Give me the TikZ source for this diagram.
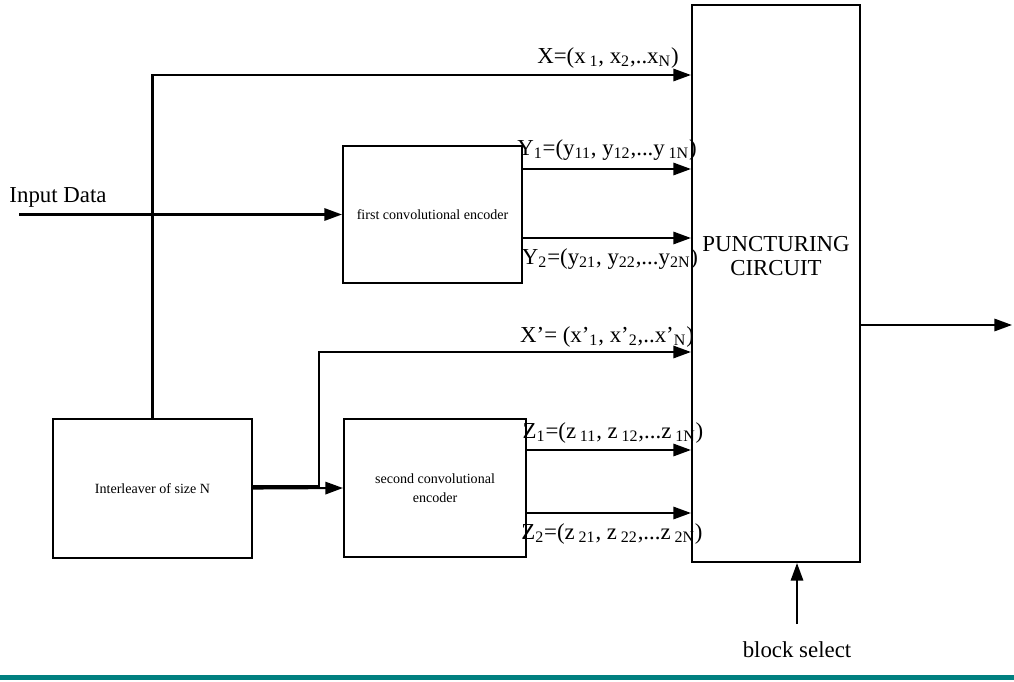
\documentclass[tikz,border=0pt]{standalone}
\usepackage{fontspec}
\setmainfont{Liberation Serif}
\usetikzlibrary{arrows.meta,positioning}
\definecolor{barteal}{RGB}{0,128,128}

\begin{document}
\begin{tikzpicture}[x=0.02cm,y=-0.02cm,
    blk/.style={draw,line width=1.2pt,inner sep=0pt,align=center,font=\fontsize{8}{11}\selectfont},
    sig/.style={line width=1.2pt,-{Triangle[length=10pt,width=7pt]}},
    lbl/.style={font=\fontsize{13}{14}\selectfont,inner sep=0pt,align=center}]

		\useasboundingbox (0,0) rectangle (1014,682);

		% blocks
		\node[blk,minimum width=3.36cm,minimum height=11.14cm] (punct) at (776,283.5) {};
		\node[lbl] (ptext) at (776,256) {PUNCTURING\\CIRCUIT};
		\node[blk,minimum width=3.98cm,minimum height=2.78cm] (ilv) at (152.5,488.5) {Interleaver of size N};
		\node[blk,minimum width=3.58cm,minimum height=2.74cm] (enc1) at (432.5,214.5) {first convolutional encoder};
		\node[blk,minimum width=3.64cm,minimum height=2.76cm] (enc2) at (435,488) {second convolutional\\encoder};

		% levels on the puncturing circuit
		\coordinate (yX) at (0,75);
		\coordinate (yYa) at (0,169);
		\coordinate (yYb) at (0,238);
		\coordinate (yXp) at (0,352);
		\coordinate (yZa) at (0,450);
		\coordinate (yZb) at (0,513);
		\coordinate (yOut) at (0,325);
		\coordinate (in) at (19,214.5);
		\coordinate (out) at (1012,325);

		% input
		\node[lbl,anchor=base] (indata) at (58,203) {Input Data};
		\draw[sig] (in) -- (enc1.west);

		% systematic and interleaved streams
		\draw[sig] (ilv.north) -- (ilv.north |- yX) -- (punct.west |- yX);
		\draw[sig] (ilv.east) -- (enc2.west);
		\draw[sig] ([yshift=0.04cm]ilv.east) -- ++(66,0) |- (punct.west |- yXp);

		% parity streams
		\foreach \y/\e in {yYa/enc1,yYb/enc1,yZa/enc2,yZb/enc2}
			\draw[sig] (\e.east |- \y) -- (punct.west |- \y);

		% output and block select
		\draw[sig] (punct.east |- yOut) -- (out);
		\node[lbl] (bsel) at (797,650) {block select};
		\draw[sig] ([yshift=0.35cm]bsel.north) -- (bsel |- punct.south);

		% labels
		\node[lbl] (lX) at (608,58) {X=(x\,\textsubscript{1}, x\textsubscript{2},..x\textsubscript{N})};
		\node[lbl] (lYa) at (607,150) {Y\textsubscript{1}=(y\textsubscript{11}, y\textsubscript{12},...y\,\textsubscript{1N})};
		\node[lbl] (lYb) at (610,259) {Y\textsubscript{2}=(y\textsubscript{21}, y\textsubscript{22},...y\textsubscript{2N})};
		\node[lbl] (lXp) at (607,337) {X'= (x'\textsubscript{1}, x'\textsubscript{2},..x'\textsubscript{N})};
		\node[lbl] (lZa) at (613,433) {Z\textsubscript{1}=(z\,\textsubscript{11}, z\,\textsubscript{12},...z\,\textsubscript{1N})};
		\node[lbl] (lZb) at (612,534) {Z\textsubscript{2}=(z\,\textsubscript{21}, z\,\textsubscript{22},...z\,\textsubscript{2N})};

		\fill[barteal] (0,675) rectangle (1014,680);

\end{tikzpicture}
\end{document}
